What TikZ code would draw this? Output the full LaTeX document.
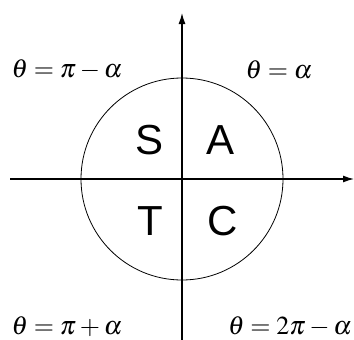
\documentclass[tikz,border=0pt]{standalone}
\usepackage{mathptmx}
\usepackage[no-math]{fontspec}
\setsansfont{Liberation Sans}
\usetikzlibrary{arrows.meta}

\begin{document}
\begin{tikzpicture}[
  x=1pt, y=-1pt,
  axis/.style={line width=1.3pt, -{Latex[length=11pt, width=7pt]}},
  quad/.style={font=\fontsize{42}{42}\selectfont\sffamily, inner sep=0pt},
  ang/.style={font=\fontsize{26}{26}\selectfont, inner sep=0pt}]
  \useasboundingbox (0,0) rectangle (354,340);
  % axes
  \coordinate (o) at (182,179);
  \coordinate (xl) at (10,179);
  \coordinate (xr) at (354,179);
  \coordinate (yb) at (182,340);
  \coordinate (yt) at (182,13);
  \draw[axis] (xl) -- (xr);
  \draw[axis] (yb) -- (yt);
  \draw[line width=0.8pt] (o) circle[radius=101];
  % quadrants
  \node[quad] (s) at (150,140) {S};
  \node[quad] (a) at (221,140) {A};
  \node[quad] (t) at (150,221) {T};
  \node[quad] (c) at (223,221) {C};
  % angles
  \node[ang] (q2) at (67,70) {$\theta=\pi-\alpha$};
  \node[ang] (q1) at (279,70) {$\theta=\alpha$};
  \node[ang] (q3) at (67,327) {$\theta=\pi+\alpha$};
  \node[ang] (q4) at (290,327) {$\theta=2\pi-\alpha$};
\end{tikzpicture}
\end{document}
